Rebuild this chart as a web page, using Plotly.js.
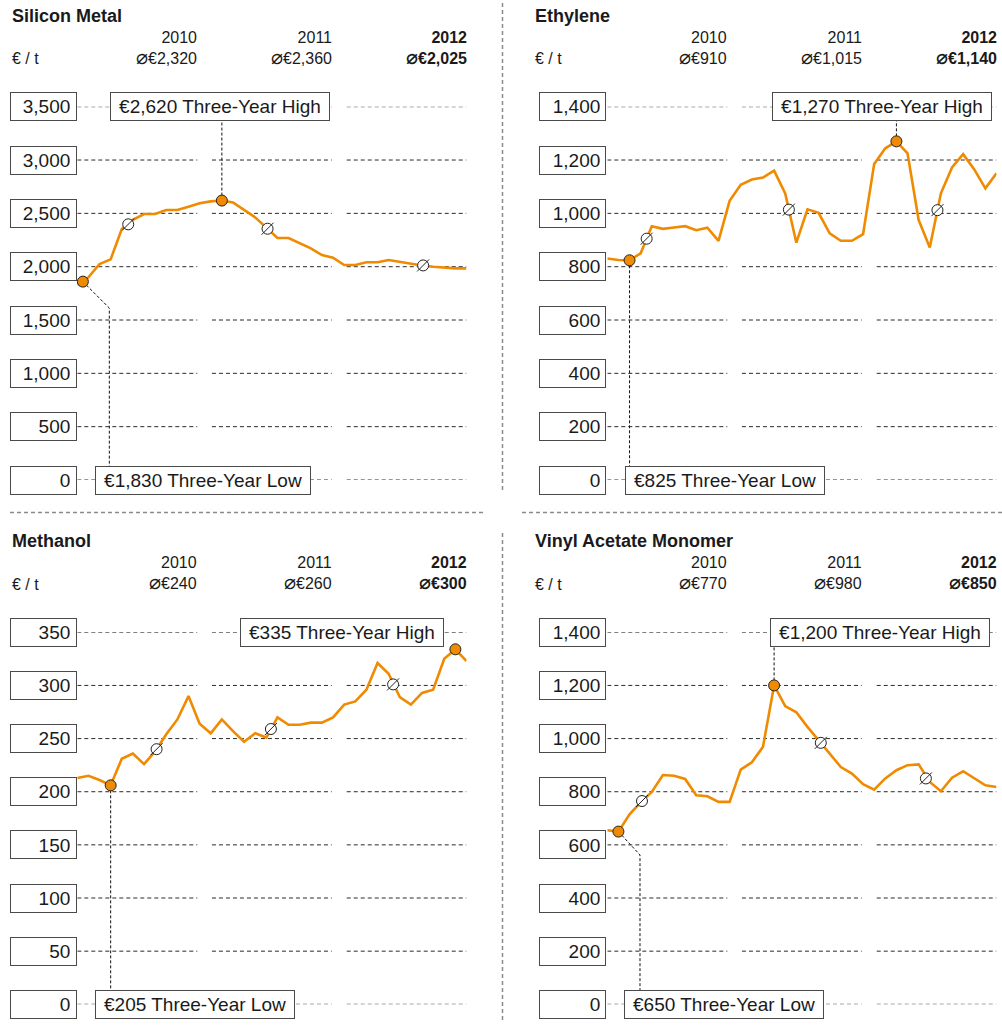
<!DOCTYPE html>
<html>
<head>
<meta charset="utf-8">
<script src="https://cdn.plot.ly/plotly-3.0.1.min.js"></script>
<style>
html,body{margin:0;padding:0;background:#ffffff;}
#chart{width:1002px;height:1035px;}
</style>
</head>
<body>
<div id="chart"></div>
<script>
// ---------------- DATA ----------------
const months = [0,1,2,3,4,5,6,7,8,9,10,11,12,13,14,15,16,17,18,19,20,21,22,23,24,25,26,27,28,29,30,31,32,33,34,35];
const years = ['2010', '2011', '2012'];

const siliconPrice = [1830, 1900, 2025, 2069, 2352, 2440, 2494, 2494, 2531, 2531, 2562, 2594, 2612, 2620, 2603, 2531, 2462, 2366, 2269, 2269, 2219, 2172, 2109, 2084, 2016, 2016, 2041, 2041, 2062, 2044, 2031, 2012, 2000, 1991, 1984, 1984];
const ethylenePrice = [831, 825, 824, 850, 952, 942, 947, 952, 937, 946, 897, 1047, 1107, 1127, 1134, 1160, 1075, 890, 1015, 1002, 925, 897, 897, 922, 1185, 1244, 1270, 1225, 975, 872, 1075, 1172, 1222, 1165, 1094, 1150];
const methanolPrice = [213, 215, 211, 206, 231, 236, 226, 238, 254, 268, 290, 264, 255, 268, 257, 247, 255, 251, 270, 263, 263, 265, 265, 270, 282, 285, 296, 321, 311, 289, 282, 293, 296, 325, 334, 323];
const vamPrice = [655, 650, 715, 760, 799, 863, 860, 848, 787, 783, 762, 762, 883, 911, 969, 1200, 1122, 1099, 1044, 994, 944, 893, 868, 828, 808, 850, 881, 900, 903, 837, 802, 853, 877, 850, 824, 818];

// yearly averages (header text)
const siliconYearAvg = [2320, 2360, 2025];
const ethyleneYearAvg = [910, 1015, 1140];
const methanolYearAvg = [240, 260, 300];
const vamYearAvg = [770, 980, 850];

// average markers on the line (month position, price)
const siliconAvgX = [4.58, 17.11, 31.1];
const siliconAvgY = [2397, 2356, 2012];
const ethyleneAvgX = [3.54, 16.33, 29.69];
const ethyleneAvgY = [905, 1014, 1012];
const methanolAvgX = [7.13, 17.41, 28.4];
const methanolAvgY = [240, 259, 301];
const vamAvgX = [3.12, 19.2, 28.65];
const vamAvgY = [765, 984, 850];

// three-year low / high: label values and marker points [low, high]
const siliconLowHigh = [1830, 2620];
const siliconMarkX = [0.5, 13];
const siliconMarkY = [1860, 2620];
const ethyleneLowHigh = [825, 1270];
const ethyleneMarkX = [2, 26];
const ethyleneMarkY = [824, 1270];
const methanolLowHigh = [205, 335];
const methanolMarkX = [3, 34];
const methanolMarkY = [206, 334];
const vamLowHigh = [650, 1200];
const vamMarkX = [1, 15];
const vamMarkY = [650, 1200];

// y tick values
const siliconTicks = [0, 500, 1000, 1500, 2000, 2500, 3000, 3500];
const ethyleneTicks = [0, 200, 400, 600, 800, 1000, 1200, 1400];
const methanolTicks = [0, 50, 100, 150, 200, 250, 300, 350];
const vamTicks = [0, 200, 400, 600, 800, 1000, 1200, 1400];

// ---------------- LAYOUT / STYLE ----------------
const W = 1002, H = 1035;
const ORANGE = '#f08a00';
const INK = '#1a1a1a';
const FONT = '"Liberation Sans", Arial, Helvetica, sans-serif';
const DIAM = '<span style="font-family:\'DejaVu Sans\';font-size:20px">⌀</span>';
const COLS = [{text: 11.7, box0: 10, left: 77.3, right: 466.5}, {text: 535, box0: 539.3, left: 607.3, right: 996.5}];
const ROWS = [{top: 106.7, bottom: 480}, {top: 632.3, bottom: 1004.3}];
const YEAR_START = [0, 12.11, 24.23];
const YEAR_END = [10.79, 22.88, 35];

const panels = [
  {title: 'Silicon Metal', price: siliconPrice, yearAvg: siliconYearAvg, avgX: siliconAvgX, avgY: siliconAvgY,
   lowHigh: siliconLowHigh, markX: siliconMarkX, markY: siliconMarkY, ticks: siliconTicks, col: 0, row: 0,
   highBox: {x: 12.85, anchor: 'center'}, lowBox: {x: 1.56, anchor: 'left'},
   leaders: [[[0.5, 1860], [2.88, 1612], [2.88, 0]], [[13, 2620], [13, 3500]]]},
  {title: 'Ethylene', price: ethylenePrice, yearAvg: ethyleneYearAvg, avgX: ethyleneAvgX, avgY: ethyleneAvgY,
   lowHigh: ethyleneLowHigh, markX: ethyleneMarkX, markY: ethyleneMarkY, ticks: ethyleneTicks, col: 1, row: 0,
   highBox: {x: 34.55, anchor: 'right'}, lowBox: {x: 1.59, anchor: 'left'},
   leaders: [[[2, 824], [2, 0]], [[26, 1270], [26, 1400]]]},
  {title: 'Methanol', price: methanolPrice, yearAvg: methanolYearAvg, avgX: methanolAvgX, avgY: methanolAvgY,
   lowHigh: methanolLowHigh, markX: methanolMarkX, markY: methanolMarkY, ticks: methanolTicks, col: 0, row: 1,
   highBox: {x: 33.02, anchor: 'right'}, lowBox: {x: 1.56, anchor: 'left'},
   leaders: [[[3, 206], [3, 0]]]},
  {title: 'Vinyl Acetate Monomer', price: vamPrice, yearAvg: vamYearAvg, avgX: vamAvgX, avgY: vamAvgY,
   lowHigh: vamLowHigh, markX: vamMarkX, markY: vamMarkY, ticks: vamTicks, col: 1, row: 1,
   highBox: {x: 14.6, anchor: 'left'}, lowBox: {x: 1.53, anchor: 'left'},
   leaders: [[[1, 650], [2.94, 562], [2.94, 0]], [[15, 1200], [15, 1400]]]}
];

const fmt = v => v.toLocaleString('en-US');
const canvas = document.createElement('canvas');
const ctx = canvas.getContext('2d');
ctx.font = '19px "Liberation Sans", Arial, sans-serif';
const textW = t => ctx.measureText(t).width;

const traces = [];
const shapes = [];
const annotations = [];
const layout = {
  width: W, height: H,
  margin: {l: 0, r: 0, t: 0, b: 0},
  paper_bgcolor: '#ffffff', plot_bgcolor: 'rgba(0,0,0,0)',
  showlegend: false,
  font: {family: FONT, color: INK},
  shapes: shapes, annotations: annotations
};

panels.forEach((p, i) => {
  const n = i === 0 ? '' : String(i + 1);
  const xa = 'x' + n, ya = 'y' + n;
  const c = COLS[p.col], r = ROWS[p.row];
  const yMax = p.ticks[p.ticks.length - 1];

  layout['xaxis' + n] = {
    domain: [c.left / W, c.right / W], range: [0, 35], visible: false, fixedrange: true, anchor: ya
  };
  layout['yaxis' + n] = {
    domain: [1 - r.bottom / H, 1 - r.top / H], range: [0, yMax], anchor: xa,
    showgrid: false, zeroline: false, showline: false, ticks: '',
    tickvals: p.ticks, tickformat: ',d', ticklabelstandoff: 6,
    tickfont: {size: 19, color: INK, family: FONT}, fixedrange: true
  };

  p.ticks.forEach(t => {
    // frame around each tick label
    annotations.push({text: ' ', xref: 'paper', yref: ya, x: c.box0 / W, y: t, xanchor: 'left', yanchor: 'middle',
      showarrow: false, width: 65, height: 27, borderpad: 0, borderwidth: 1, bordercolor: '#4a4a4a',
      bgcolor: 'rgba(0,0,0,0)', font: {size: 12}});
    // dashed grid segments per year
    for (let k = 0; k < 3; k++) {
      shapes.push({type: 'line', layer: 'below', xref: xa, yref: ya,
        x0: YEAR_START[k], x1: YEAR_END[k], y0: t, y1: t,
        line: {color: '#2a2a2a', width: 1, dash: '4px,3px'}});
    }
  });

  // leader lines
  p.leaders.forEach(pts => {
    const path = pts.map((q, j) => (j ? 'L' : 'M') + q[0] + ',' + q[1]).join(' ');
    shapes.push({type: 'path', layer: 'below', xref: xa, yref: ya, path: path,
      line: {color: '#111111', width: 1, dash: '3px,2px'}});
  });

  // price line
  traces.push({type: 'scatter', mode: 'lines', x: months, y: p.price, xaxis: xa, yaxis: ya,
    line: {color: ORANGE, width: 2.6}, hoverinfo: 'skip'});
  // average markers (circle + slash)
  traces.push({type: 'scatter', mode: 'markers', x: p.avgX, y: p.avgY, xaxis: xa, yaxis: ya, cliponaxis: false,
    marker: {symbol: 'circle', size: 11, color: '#ffffff', line: {color: '#222222', width: 1}}, hoverinfo: 'skip'});
  traces.push({type: 'scatter', mode: 'markers', x: p.avgX, y: p.avgY, xaxis: xa, yaxis: ya, cliponaxis: false,
    marker: {symbol: 'line-ne', size: 12, color: '#222222', line: {color: '#222222', width: 1}}, hoverinfo: 'skip'});
  // low / high points
  traces.push({type: 'scatter', mode: 'markers', x: p.markX, y: p.markY, xaxis: xa, yaxis: ya, cliponaxis: false,
    marker: {symbol: 'circle', size: 11, color: ORANGE, line: {color: '#222222', width: 1}}, hoverinfo: 'skip'});

  // low / high labels
  const lowText = '€' + fmt(p.lowHigh[0]) + ' Three-Year Low';
  const highText = '€' + fmt(p.lowHigh[1]) + ' Three-Year High';
  [[lowText, p.lowBox, 0], [highText, p.highBox, yMax]].forEach(([txt, box, yv]) => {
    annotations.push({text: txt, xref: xa, yref: ya, x: box.x, y: yv, xanchor: box.anchor, yanchor: 'middle',
      showarrow: false, font: {size: 19, color: INK, family: FONT}, bgcolor: '#ffffff',
      bordercolor: '#4a4a4a', borderwidth: 1, borderpad: 0,
      width: Math.round(textW(txt) + 16), height: 27, align: 'center', valign: 'middle'});
  });

  // title
  annotations.push({text: '<b>' + p.title + '</b>', xref: 'paper', yref: 'paper',
    x: c.text / W, y: 1 - (r.top - 91) / H, xanchor: 'left', yanchor: 'middle', showarrow: false,
    font: {size: 18, color: INK, family: FONT}, borderpad: 0, borderwidth: 0});
  // unit
  annotations.push({text: '€ / t', xref: 'paper', yref: 'paper',
    x: c.text / W, y: 1 - (r.top - 48) / H, xanchor: 'left', yanchor: 'middle', showarrow: false,
    font: {size: 16, color: INK, family: FONT}, borderpad: 0, borderwidth: 0});
  // year headers
  years.forEach((yr, k) => {
    const a = DIAM + '€' + fmt(p.yearAvg[k]);
    const txt = k === 2 ? '<b>' + yr + '</b><br><b>' + a + '</b>' : yr + '<br>' + a;
    annotations.push({text: txt, xref: xa, yref: 'paper', x: YEAR_END[k], y: 1 - (r.top - 58) / H,
      xanchor: 'right', yanchor: 'middle', align: 'right', showarrow: false,
      font: {size: 16, color: INK, family: FONT}, borderpad: 0, borderwidth: 0});
  });
});

// panel dividers
const DIV = {color: '#8a8a8a', width: 1.5, dash: '4px,3px'};
shapes.push({type: 'line', xref: 'paper', yref: 'paper', x0: 502.5 / W, x1: 502.5 / W, y0: 1 - 3 / H, y1: 1 - 493 / H, line: DIV});
shapes.push({type: 'line', xref: 'paper', yref: 'paper', x0: 502.5 / W, x1: 502.5 / W, y0: 1 - 533 / H, y1: 1 - 1020 / H, line: DIV});
shapes.push({type: 'line', xref: 'paper', yref: 'paper', x0: 10 / W, x1: 483 / W, y0: 1 - 512.5 / H, y1: 1 - 512.5 / H, line: DIV});
shapes.push({type: 'line', xref: 'paper', yref: 'paper', x0: 522 / W, x1: 1, y0: 1 - 512.5 / H, y1: 1 - 512.5 / H, line: DIV});

Plotly.newPlot('chart', traces, layout, {displayModeBar: false, staticPlot: true});
</script>
</body>
</html>
